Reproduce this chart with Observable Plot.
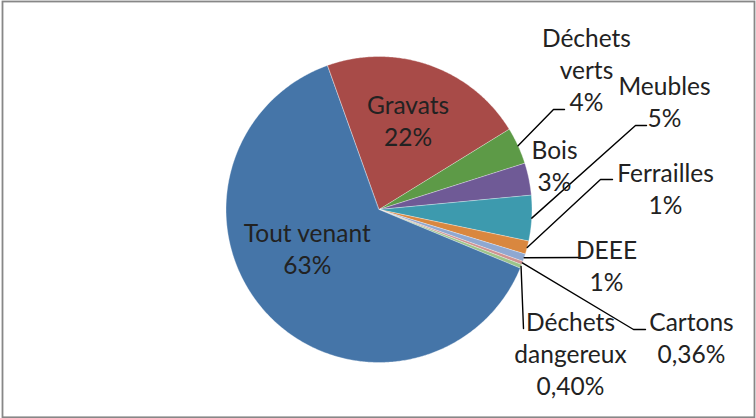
<!DOCTYPE html>
<html>
<head>
<meta charset="utf-8">
<script src="https://cdn.jsdelivr.net/npm/d3@7"></script>
<script src="https://cdn.jsdelivr.net/npm/@observablehq/plot@0.6"></script>
<style>
  html, body { margin: 0; padding: 0; background: #fff; }
</style>
</head>
<body>
<div id="chart"></div>
<script>
// ---- data ----
const categories = ["Gravats", "Déchets verts", "Bois", "Meubles", "Ferrailles", "DEEE", "Cartons", "Déchets dangereux", "Tout venant"];
const values = [21.7, 3.9, 3.4, 4.8, 1.4, 0.8, 0.36, 0.40, 63.24];
const labelNames = ["Gravats", "Déchets\nverts", "Bois", "Meubles", "Ferrailles", "DEEE", "Cartons", "Déchets\ndangereux", "Tout venant"];
const pctLabels = ["22%", "4%", "3%", "5%", "1%", "1%", "0,36%", "0,40%", "63%"];
const colors = ["#a84b48", "#5d9a47", "#6f5a96", "#3d9aae", "#d9873f", "#8fa8d1", "#d09291", "#9cc48a", "#4575a8"];

// ---- layout (unit radius coordinates; label centre, leader bend/end) ----
const startDeg = -19.8;
const labelLayout = [
  {cat: "Gravats", lx: 0.19, ly: 0.575, leader: null},
  {cat: "Déchets verts", lx: 1.356, ly: 0.905, leader: [[1.1405, 0.6536], [1.2124, 0.6536]]},
  {cat: "Bois", lx: 1.147, ly: 0.281, leader: null},
  {cat: "Meubles", lx: 1.866, ly: 0.696, leader: [[1.6765, 0.549], [1.7484, 0.549]]},
  {cat: "Ferrailles", lx: 1.8725, ly: 0.131, leader: [[1.4477, 0.1961], [1.5261, 0.1961]]},
  {cat: "DEEE", lx: 1.487, ly: -0.377, leader: [[1.3105, -0.314]]},
  {cat: "Cartons", lx: 2.0425, ly: -0.843, leader: [[1.6634, -0.7843], [1.7418, -0.7843]]},
  {cat: "Déchets dangereux", lx: 1.2516, ly: -0.948, leader: [[0.9444, -0.7778]]},
  {cat: "Tout venant", lx: -0.469, ly: -0.261, leader: null}
];

const rad = d => d * Math.PI / 180;
const arcs = d3.pie().sort(null).value(d => d)
  .startAngle(rad(startDeg)).endAngle(rad(startDeg + 360))(values);

// slice polygons
const slicePts = [];
arcs.forEach((a, i) => {
  const cat = categories[i];
  slicePts.push({cat, x: 0, y: 0});
  const n = Math.max(2, Math.ceil((a.endAngle - a.startAngle) / rad(0.5)));
  for (let k = 0; k <= n; k++) {
    const t = a.startAngle + (a.endAngle - a.startAngle) * k / n;
    slicePts.push({cat, x: Math.sin(t), y: Math.cos(t)});
  }
});

// labels
const labels = labelLayout.map((l, i) => ({
  x: l.lx, y: l.ly,
  text: labelNames[i] + "\n" + pctLabels[i]
}));

// leaders, starting at slice mid-angle on the rim
const leaderPts = [];
labelLayout.forEach((l, i) => {
  if (!l.leader) return;
  const a = arcs[i];
  const m = (a.startAngle + a.endAngle) / 2;
  leaderPts.push({cat: l.cat, x: Math.sin(m), y: Math.cos(m)});
  l.leader.forEach(p => leaderPts.push({cat: l.cat, x: p[0], y: p[1]}));
});

const W = 756, H = 418, cx = 378.5, cy = 209, R = 153;

const chart = Plot.plot({
  width: W,
  height: H,
  margin: 0,
  x: {domain: [-cx / R, (W - cx) / R], axis: null},
  y: {domain: [(cy - H) / R, cy / R], axis: null},
  color: {domain: categories, range: colors},
  style: {fontFamily: "Lato, 'Open Sans', sans-serif", background: "#fff", overflow: "visible"},
  marks: [
    Plot.line(slicePts, {x: "x", y: "y", z: "cat", fill: "cat", stroke: "#ffffff", strokeWidth: 0.6, strokeOpacity: 0.6, curve: "linear-closed"}),
    Plot.line(leaderPts, {x: "x", y: "y", z: "cat", stroke: "#000", strokeWidth: 1.4, strokeLinejoin: "miter"}),
    Plot.text(labels, {x: "x", y: "y", text: "text", fontSize: 24.5, lineHeight: 1.3, fill: "#222", lineAnchor: "middle", dy: -2}),
    Plot.frame({stroke: "#878787", strokeWidth: 1.8, insetLeft: 2, insetRight: 2, insetTop: 1, insetBottom: 1.2})
  ]
});
document.getElementById("chart").appendChild(chart);
</script>
</body>
</html>
